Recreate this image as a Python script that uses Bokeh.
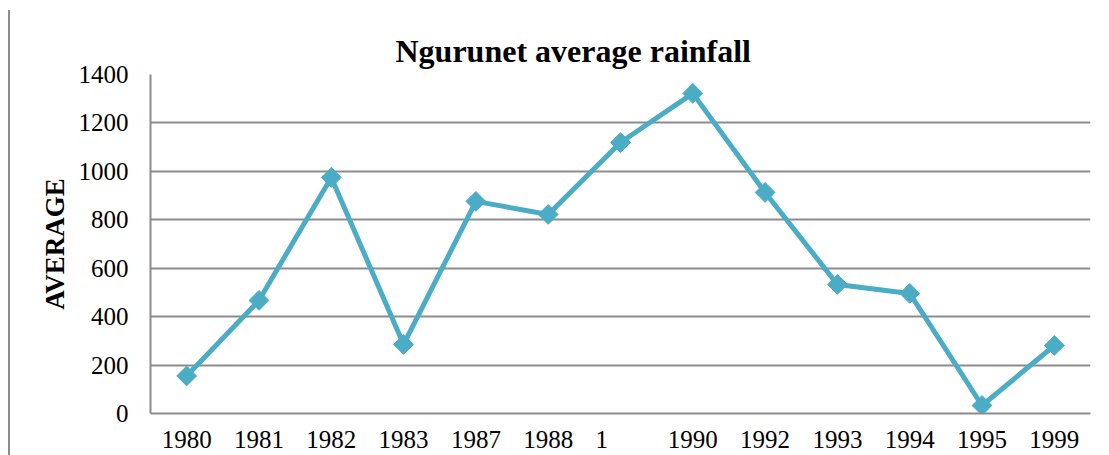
import math
from bokeh.plotting import figure
from bokeh.layouts import row
from bokeh.models import FactorRange, Range1d, ColumnDataSource, FixedTicker, Div
from bokeh.embed import file_html
from bokeh.resources import INLINE

years = ["1980", "1981", "1982", "1983", "1987", "1988", "1",
         "1990", "1992", "1993", "1994", "1995", "1999"]
rainfall = [155, 467, 975, 285, 876, 822, 1119, 1322, 913, 533, 496, 33, 281]
y_ticks = [0, 200, 400, 600, 800, 1000, 1200, 1400]

FONT = "Liberation Serif"
LINE_COLOR = "#4BACC6"
GRID_COLOR = "#8C8C8C"

# the lone "1" label sits left of its slot in the original; pad it with no-break spaces
factors = [y + "\u00a0" * 6 if y == "1" else y for y in years]

src = ColumnDataSource(dict(year=factors, rain=rainfall))

LEFT_STRIP = 10

p = figure(width=1109 - LEFT_STRIP, height=455,
           x_range=FactorRange(*factors, range_padding=0),
           y_range=Range1d(0, 1400),
           output_backend="svg", toolbar_location=None,
           min_border_left=150 - LEFT_STRIP, min_border_right=19,
           min_border_top=74, min_border_bottom=42,
           title="Ngurunet average rainfall", margin=0)

p.title.text_font = FONT
p.title.text_font_size = "32px"
p.title.text_font_style = "bold"
p.title.text_color = "black"
p.title.align = "left"
p.title.offset = 245
p.title.standoff = 12

p.outline_line_color = None
p.background_fill_color = "white"
p.border_fill_color = "white"

p.xgrid.grid_line_color = None
p.ygrid.grid_line_color = GRID_COLOR
p.ygrid.grid_line_width = 2
p.yaxis.ticker = FixedTicker(ticks=y_ticks)

for ax in (p.xaxis[0], p.yaxis[0]):
    ax.axis_line_color = GRID_COLOR
    ax.axis_line_width = 2
    ax.major_tick_line_color = None
    ax.minor_tick_line_color = None
    ax.major_tick_out = 0
    ax.major_tick_in = 0
    ax.major_label_text_font = FONT
    ax.major_label_text_font_size = "25px"
    ax.major_label_text_color = "black"

p.xaxis.major_label_standoff = 12
p.yaxis.major_label_standoff = 22
p.yaxis.axis_label = "AVERAGE"
p.yaxis.axis_label_text_font = FONT
p.yaxis.axis_label_text_font_size = "27px"
p.yaxis.axis_label_text_font_style = "bold"
p.yaxis.axis_label_text_color = "black"
p.yaxis.axis_label_standoff = 6

p.line("year", "rain", source=src, line_color=LINE_COLOR, line_width=5)
p.scatter("year", "rain", source=src, marker="square", size=14, angle=math.pi / 4,
          fill_color=LINE_COLOR, line_color=LINE_COLOR)

strip = Div(text="", width=LEFT_STRIP, height=445, margin=(10, 0, 0, 0),
            styles={"border-right": "2px solid #8C8C8C", "box-sizing": "border-box"})

layout = row(strip, p, spacing=0)

open("out.html", "w").write(file_html(layout, INLINE))
